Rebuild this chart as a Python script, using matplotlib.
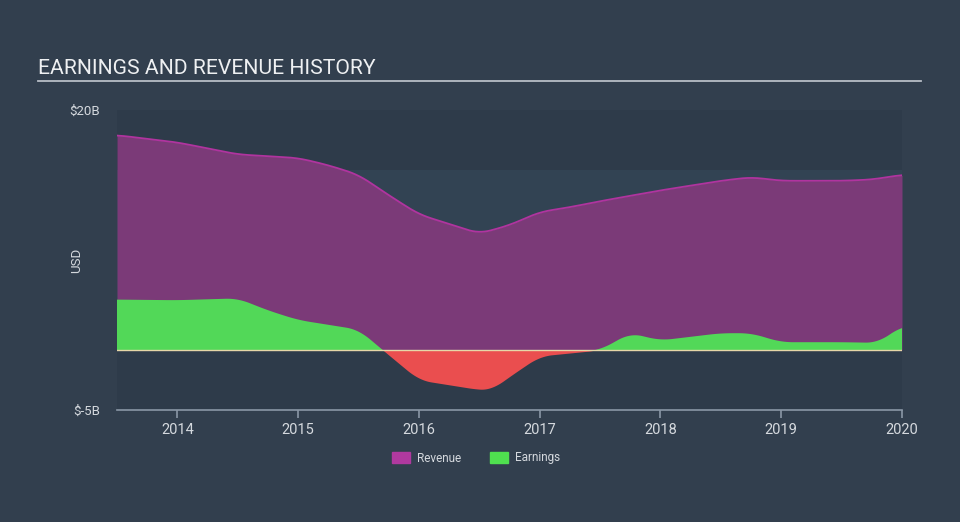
import numpy as np
from matplotlib import pyplot as plt
import matplotlib.patches as mpatches

plt.rcParams['font.family'] = ['Roboto', 'DejaVu Sans']

# values in billions USD
rev_x = [2013.5, 2014.0, 2014.5, 2015.0, 2015.25, 2015.5, 2015.75, 2016.0, 2016.25,
         2016.5, 2016.75, 2017.0, 2017.25, 2017.5, 2018.0, 2018.5, 2018.75, 2019.0,
         2019.5, 2019.75, 2020.0]
revenue = [17.9, 17.3, 16.3, 16.0, 15.4, 14.6, 12.9, 11.3, 10.5,
           9.7, 10.4, 11.5, 11.9, 12.4, 13.3, 14.1, 14.4, 14.1,
           14.1, 14.2, 14.6]

earn_x = [2013.5, 2014.0, 2014.5, 2014.75, 2015.0, 2015.25, 2015.5, 2015.7, 2016.0,
          2016.25, 2016.5, 2016.6, 2016.75, 2017.0, 2017.25, 2017.5, 2017.75, 2018.0,
          2018.25, 2018.5, 2018.75, 2019.0, 2019.5, 2019.8, 2020.0]
earnings = [4.2, 4.15, 4.3, 3.3, 2.5, 2.1, 1.7, 0.0, -2.5,
            -2.9, -3.3, -3.3, -2.2, -0.5, -0.25, 0.0, 1.4, 0.8,
            1.1, 1.4, 1.4, 0.65, 0.65, 0.6, 2.0]

years = [2014, 2015, 2016, 2017, 2018, 2019, 2020]
y_ticks = [-5, 20]
y_labels = ['$-5B', '$20B']

bg = '#323f4e'
fig = plt.figure(figsize=(9.6, 5.22), dpi=100, facecolor=bg)
ax = fig.add_axes([117 / 960, 112 / 522, 785 / 960, 300 / 522])
ax.set_facecolor('#2e3b4a')

# smooth curves for the areas
xs = np.linspace(2013.5, 2020.0, 800)
rv = np.interp(xs, rev_x, revenue)
ev = np.interp(xs, earn_x, earnings)
k = np.ones(25) / 25
rv = np.convolve(np.pad(rv, 12, mode='edge'), k, mode='valid')
ev = np.convolve(np.pad(ev, 12, mode='edge'), k, mode='valid')

ax.axhspan(0, 15, color='#324353', zorder=0, lw=0)

ax.fill_between(xs, 0, rv, color='#7b3a78', zorder=2, lw=0)
ax.plot(xs, rv, color='#b0349f', lw=1.3, zorder=3)
ax.fill_between(xs, 0, ev, where=ev >= 0, interpolate=True, color='#52d858', zorder=4, lw=0)
ax.fill_between(xs, 0, ev, where=ev <= 0, interpolate=True, color='#ea4e4f', zorder=4, lw=0)
ax.axhline(0, color='#e6d7a8', lw=1, zorder=5)

ax.set_xlim(2013.5, 2020.0)
ax.set_ylim(-5, 20)

for s in ['top', 'right', 'left']:
    ax.spines[s].set_visible(False)
ax.spines['bottom'].set_color('#8a97a6')
ax.spines['bottom'].set_linewidth(1.2)
ax.set_xticks(years)
ax.set_xticklabels([str(y) for y in years])
ax.tick_params(axis='x', colors='#8a97a6', length=6, width=1.2, labelcolor='#d5d9de',
               labelsize=10.5, pad=3)
ax.set_yticks(y_ticks)
ax.set_yticklabels(y_labels)
ax.tick_params(axis='y', length=0, labelcolor='#d5d9de', labelsize=9.5, pad=12)
ax.set_ylabel('USD', color='#d5d9de', fontsize=9.5)
ax.yaxis.set_label_coords(-34 / 785, 0.5)

fig.text(38 / 960, 1 - 68 / 522, 'EARNINGS AND REVENUE HISTORY', color='#eef0f2',
         fontsize=15.2, va='center', ha='left')
fig.add_artist(plt.Line2D([38 / 960, 921 / 960], [1 - 81 / 522, 1 - 81 / 522],
                          color='#b8bec6', lw=1.3))

rev_patch = mpatches.Patch(color='#b0399f', label='Revenue')
earn_patch = mpatches.Patch(color='#4fe04f', label='Earnings')
leg = fig.legend(handles=[rev_patch, earn_patch], loc='center', ncol=2,
                 bbox_to_anchor=(476 / 960, 1 - 458 / 522), frameon=False,
                 fontsize=8.5, handlelength=1.5, handleheight=1.0, columnspacing=2.5,
                 handletextpad=0.6)
for t in leg.get_texts():
    t.set_color('#d5d9de')

plt.savefig('out.png', dpi=100, facecolor=bg)
